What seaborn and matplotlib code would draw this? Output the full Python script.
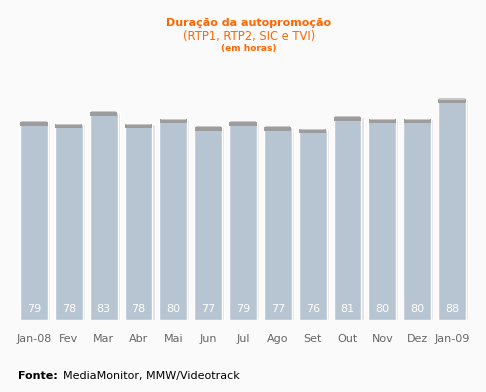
import matplotlib
matplotlib.use("Agg")
from matplotlib import pyplot as plt
import seaborn as sns
import pandas as pd

months = ['Jan-08', 'Fev', 'Mar', 'Abr', 'Mai', 'Jun', 'Jul', 'Ago', 'Set', 'Out', 'Nov', 'Dez', 'Jan-09']
hours = [79, 78, 83, 78, 80, 77, 79, 77, 76, 81, 80, 80, 88]

df = pd.DataFrame({'mes': months, 'horas': hours})

sns.set_style("white")
plt.rcParams['font.family'] = ['DejaVu Sans']

fig = plt.figure(figsize=(4.86, 3.92), dpi=100)
fig.patch.set_facecolor('#fafafa')
ax = fig.add_axes([0.0342, 0.1837, 0.9317, 0.640])
ax.set_facecolor('#fafafa')

# shadow behind bars
sns.barplot(data=df, x='mes', y='horas', color='#dcdcdc', width=0.86, saturation=1, ax=ax)
for p in ax.patches:
    p.set_x(p.get_x() + 0.03)
sns.barplot(data=df, x='mes', y='horas', color='#b7c4d1', width=0.8, saturation=1, ax=ax)
# dark grey cap on top
ax.bar(range(len(months)), [1.6] * len(months), bottom=df['horas'] - 1.6, width=0.78,
       color='#9c9c9c', edgecolor='none')
ax.bar(range(len(months)), [0.5] * len(months), bottom=df['horas'] - 0.2, width=0.72,
       color='#c8c8c8', edgecolor='none')

for i, v in enumerate(hours):
    ax.text(i, 4.5, str(v), ha='center', va='center', color='white', fontsize=8)

ax.set_xlim(-0.5, len(months) - 0.5)
ax.set_ylim(0, 100)
ax.set_xlabel('')
ax.set_ylabel('')
ax.set_yticks([])
ax.tick_params(axis='x', length=0, pad=10, labelsize=8, labelcolor='#666666')
sns.despine(left=True, bottom=True)

fig.text(0.512, 0.942, 'Duração da autopromoção', ha='center', va='center',
         color='#ff6600', fontsize=8, fontweight='bold')
fig.text(0.512, 0.908, '(RTP1, RTP2, SIC e TVI)', ha='center', va='center',
         color='#ff6600', fontsize=8.3)
fig.text(0.512, 0.877, '(em horas)', ha='center', va='center',
         color='#ff6600', fontsize=6.5, fontweight='bold')

fig.text(0.037, 0.041, 'Fonte:', ha='left', va='center', color='black', fontsize=8, fontweight='bold')
fig.text(0.129, 0.041, 'MediaMonitor, MMW/Videotrack', ha='left', va='center', color='black', fontsize=8)

fig.savefig('out.png', dpi=100, facecolor=fig.get_facecolor())
